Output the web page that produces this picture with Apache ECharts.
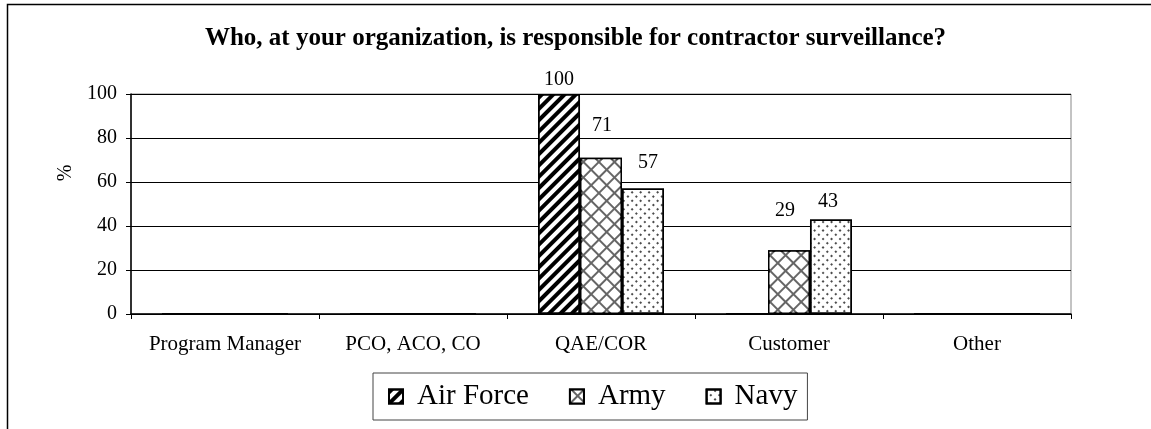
<!DOCTYPE html>
<html>
<head>
<meta charset="utf-8">
<script src="https://cdn.jsdelivr.net/npm/echarts@6/dist/echarts.min.js"></script>
<style>
  html, body { margin: 0; padding: 0; background: #fff; }
  #main { width: 1151px; height: 429px; }
</style>
</head>
<body>
<div id="main"></div>
<script>
// chart data
var categories = ["Program Manager", "PCO, ACO, CO", "QAE/COR", "Customer", "Other"];
var seriesNames = ["Air Force", "Army", "Navy"];
var airForce = [0, 0, 100, 0, 0];
var army = [0, 0, 71, 29, 0];
var navy = [0, 0, 57, 43, 0];
var yTicks = [0, 20, 40, 60, 80, 100];

var FONT = "Liberation Serif";

// label nudges (Excel placed them by hand)
var labelShift = {
  "Army-2": [1, -18],
  "Navy-2": [5, -12],
  "Army-3": [-4, -25],
  "Navy-3": [-3, -4]
};

var decals = {
  "Air Force": {
    symbol: "rect", color: "#000", backgroundColor: null,
    dashArrayX: [1, 0], dashArrayY: [4, 4], rotation: -Math.PI / 4
  },
  "Army": {
    symbol: "rect", color: "#fff", backgroundColor: null,
    dashArrayX: [8.5, 1.2], dashArrayY: [8.5, 1.2], rotation: Math.PI / 4
  },
  "Navy": {
    symbol: "circle", symbolSize: 1, color: "#111", backgroundColor: null,
    dashArrayX: [2, 3.5], dashArrayY: [2, 3.5], rotation: Math.PI / 4
  }
};
var fills = { "Air Force": "#fff", "Army": "#666", "Navy": "#fff" };

function makeSeries(name, values) {
  return {
    name: name,
    type: "bar",
    barCategoryGap: "33%",
    barGap: "0%",
    itemStyle: {
      color: fills[name],
      borderColor: "#000",
      borderWidth: 1.5,
      decal: decals[name]
    },
    data: values.map(function (v, i) {
      var sh = labelShift[name + "-" + i] || [0, 0];
      return {
        value: v,
        label: {
          show: v > 0,
          position: "top",
          distance: 4,
          offset: sh,
          fontFamily: FONT,
          fontSize: 20,
          color: "#000"
        }
      };
    })
  };
}

var myChart = echarts.init(document.getElementById("main"));
var option = {
  animation: false,
  backgroundColor: "#fff",
  title: {
    text: "Who, at your organization, is responsible for contractor surveillance?",
    left: "center",
    top: 21,
    textStyle: { fontFamily: FONT, fontSize: 25, fontWeight: "bold", color: "#000" }
  },
  graphic: [{
    type: "rect",
    shape: { x: 7.5, y: 4.5, width: 1160, height: 440 },
    style: { fill: null, stroke: "#000", lineWidth: 1.5 },
    silent: true
  }],
  legend: {
    data: seriesNames,
    left: 373,
    top: 373,
    orient: "horizontal",
    icon: "rect",
    itemWidth: 14,
    itemHeight: 14,
    itemGap: 40,
    padding: [9, 10, 9, 15],
    borderColor: "#444",
    borderWidth: 1,
    selectedMode: false,
    textStyle: { fontFamily: FONT, fontSize: 29, color: "#000", padding: [0, 0, 0, 9] }
  },
  grid: {
    left: 131,
    right: 80,
    top: 94,
    bottom: 115,
    show: true,
    borderColor: "#888",
    borderWidth: 1
  },
  xAxis: {
    type: "category",
    data: categories,
    axisLine: { lineStyle: { color: "#000", width: 1.5 } },
    axisTick: { show: true, interval: 0, length: 5, lineStyle: { color: "#000" } },
    axisLabel: { interval: 0, fontFamily: FONT, fontSize: 21, color: "#000", margin: 20 }
  },
  yAxis: {
    type: "value",
    min: yTicks[0],
    max: yTicks[yTicks.length - 1],
    interval: yTicks[1] - yTicks[0],
    name: "%",
    nameLocation: "middle",
    nameGap: 55,
    nameRotate: 90,
    nameTextStyle: { fontFamily: FONT, fontSize: 20, color: "#000", padding: [0, 0, 0, 62] },
    axisLine: { show: true, lineStyle: { color: "#000", width: 1.5 } },
    axisTick: { show: true, length: 5, lineStyle: { color: "#000" } },
    axisLabel: { fontFamily: FONT, fontSize: 20, color: "#000", margin: 14 },
    splitLine: { show: true, lineStyle: { color: "#000", width: 1 } }
  },
  series: [
    makeSeries("Air Force", airForce),
    makeSeries("Army", army),
    makeSeries("Navy", navy)
  ]
};
myChart.setOption(option);
</script>
</body>
</html>
